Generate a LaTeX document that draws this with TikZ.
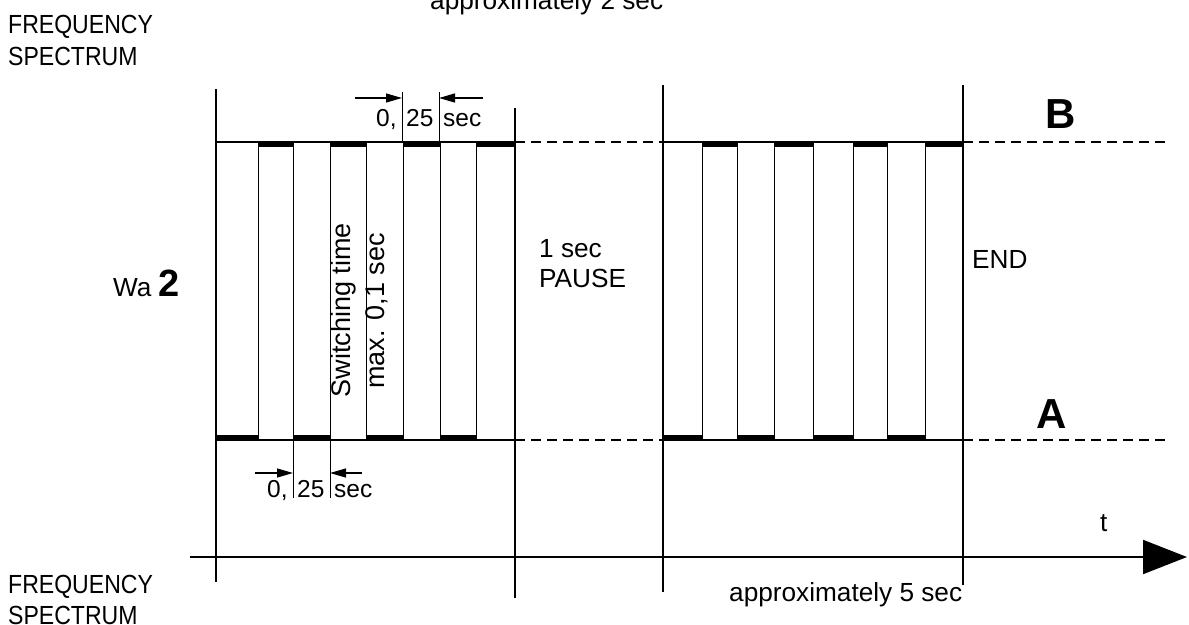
\documentclass[tikz,border=0pt]{standalone}
\usepackage{fontspec}
\usepackage{graphicx}
\setmainfont{Liberation Sans}
\usetikzlibrary{arrows.meta}
\begin{document}
\begin{tikzpicture}[x=1pt,y=-1pt,
  txt/.style={inner sep=0pt,font=\fontsize{26.2}{30}\selectfont},
  rottxt/.style={inner sep=0pt,font=\fontsize{27}{30}\selectfont},
  dimtxt/.style={inner sep=0pt,font=\fontsize{24.5}{29}\selectfont},
  biglbl/.style={inner sep=0pt,font=\fontsize{42}{42}\selectfont\bfseries},
  frame/.style={line width=1.6pt},
  level/.style={line width=1.3pt},
  lvldash/.style={line width=1.8pt,dash pattern=on 10pt off 6pt},
  bar/.style={line width=5.5pt},
  trans/.style={line width=1pt},
  dimline/.style={line width=1pt},
  dimarrow/.style={line width=1.2pt,-{Triangle[length=16pt 0 0,width=9pt 0 0]}},
  axisarrow/.style={line width=2pt,-{Triangle[length=44pt 0 0,width=34pt 0 0]}}
]
\useasboundingbox (0,0) rectangle (1189,624);
\def\yB{142}\def\yA{440}

% main vertical lines
\draw[frame] (216,89) coordinate (v1t) -- (216,582) coordinate (v1b);
\draw[frame] (515,108) coordinate (v2t) -- (515,598) coordinate (v2b);
\draw[frame] (663,85) coordinate (v3t) -- (663,592) coordinate (v3b);
\draw[frame] (963,85) coordinate (v4t) -- (963,585) coordinate (v4b);

% level lines
\draw[level] (216,\yB) -- (515,\yB);
\draw[level] (216,\yA) -- (515,\yA);
\draw[level] (663,\yB) -- (963,\yB);
\draw[level] (663,\yA) -- (963,\yA);
\draw[lvldash] (515,\yB) -- (663,\yB);
\draw[lvldash] (515,\yA) -- (663,\yA);
\draw[lvldash] (963,\yB) -- (1165,\yB);
\draw[lvldash] (963,\yA) -- (1170,\yA);

% thick level bars
\foreach \a/\b in {216/258,293/330,366/403,440/476,663/702,737/774,813/853,887/925}
  \draw[bar] (\a,437.5) -- (\b,437.5);
\foreach \a/\b in {258/293,330/366,403/440,476/515,702/737,774/813,853/887,925/963}
  \draw[bar] (\a,144.5) -- (\b,144.5);
% switching transitions
\foreach \x in {258,293,330,366,403,440,476,702,737,774,813,853,887,925}
  \draw[trans] (\x,\yB) -- (\x,\yA);

% top dimension 0,25 sec
\draw[dimline] (402,92) coordinate (dt1) -- (402,\yB);
\draw[dimline] (439,92) coordinate (dt2) -- (439,\yB);
\draw[dimarrow] (355,98) coordinate (da1) -- (402,98) coordinate (da2);
\draw[dimarrow] (483,98) coordinate (da3) -- (439,98) coordinate (da4);
\node[dimtxt,anchor=base west] (tz1) at (376,126) {0,};
\node[dimtxt,anchor=base west] (tz2) at (406,126) {25};
\node[dimtxt,anchor=base west] (tz3) at (443,126) {sec};

% bottom dimension 0,25 sec
\draw[dimline] (293,\yA) -- (293,498) coordinate (db1);
\draw[dimline] (330,\yA) -- (330,498) coordinate (db2);
\draw[dimarrow] (255,473) coordinate (dc1) -- (293,473) coordinate (dc2);
\draw[dimarrow] (362,473) coordinate (dc3) -- (330,473) coordinate (dc4);
\node[dimtxt,anchor=base west] (bz1) at (267,497) {0,};
\node[dimtxt,anchor=base west] (bz2) at (297,497) {25};
\node[dimtxt,anchor=base west] (bz3) at (334,497) {sec};

% time axis
\draw[axisarrow] (190,557) coordinate (ax0) -- (1187,557) coordinate (ax1);

% texts
\node[txt,anchor=base west] (f1) at (8,33) {\scalebox{0.88}[1]{FREQUENCY}};
\node[txt,anchor=base west] (f2) at (8,65) {\scalebox{0.88}[1]{SPECTRUM}};
\node[txt,anchor=base west] (f3) at (8,593) {\scalebox{0.88}[1]{FREQUENCY}};
\node[txt,anchor=base west] (f4) at (8,624) {\scalebox{0.88}[1]{SPECTRUM}};
\node[txt,anchor=base west] (ap2) at (430,9) {approximately 2 sec};
\node[txt,anchor=base west] (ap5) at (729,601) {approximately 5 sec};
\node[txt,anchor=base west] (wa) at (113,296) {Wa {\fontsize{38}{38}\selectfont\bfseries 2}};
\node[rottxt,rotate=90,anchor=base] (sw1) at (350.5,310) {Switching time};
\node[rottxt,rotate=90,anchor=base] (sw2) at (384,311) {max. 0,1 sec};
\node[txt,anchor=base west] (p1) at (539,257) {1 sec};
\node[txt,anchor=base west] (p2) at (539,287) {PAUSE};
\node[txt,anchor=base west] (end) at (972,268) {END};
\node[txt,anchor=base west] (tl) at (1100,531) {t};
\node[biglbl] (lB) at (1061,114) {B};
\node[biglbl] (lA) at (1052,414) {A};
\end{tikzpicture}
\end{document}
